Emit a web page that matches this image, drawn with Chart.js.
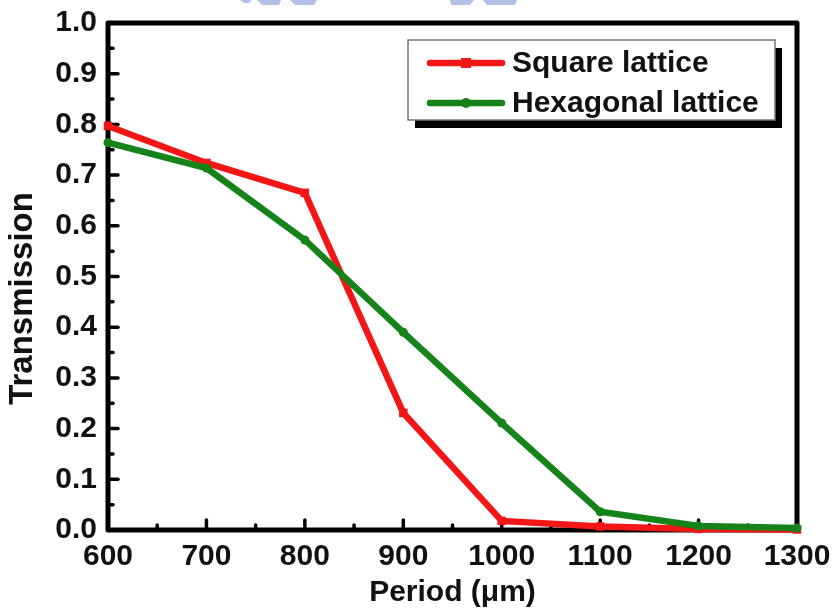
<!DOCTYPE html>
<html>
<head>
<meta charset="utf-8">
<script src="https://cdn.jsdelivr.net/npm/chart.js@4.4.0/dist/chart.umd.min.js"></script>
<style>
  html, body { margin: 0; padding: 0; background: #ffffff; }
  #wrap { width: 835px; height: 611px; }
</style>
</head>
<body>
<div id="wrap"><canvas id="c" width="835" height="611"></canvas></div>
<script>
// Lattice period (µm) and measured transmission for the two lattice types
const periods = [600, 700, 800, 900, 1000, 1100, 1200, 1300];
const squareLattice = [0.797, 0.724, 0.665, 0.231, 0.018, 0.007, 0.002, 0.001];
const hexagonalLattice = [0.764, 0.714, 0.572, 0.390, 0.211, 0.036, 0.008, 0.004];
const seriesNames = ['Square lattice', 'Hexagonal lattice'];
const yMajorTicks = [0, 0.1, 0.2, 0.3, 0.4, 0.5, 0.6, 0.7, 0.8, 0.9, 1.0];
const xMajorTicks = [600, 700, 800, 900, 1000, 1100, 1200, 1300];
const xTitle = 'Period (μm)';
const yTitle = 'Transmission';

const RED = 'rgb(242, 22, 22)';
const GREEN = 'rgb(22, 130, 26)';
const FONT = '"Liberation Sans", Arial, sans-serif';

// Thick black frame and inward ticks, drawn beneath the curves
const framePlugin = {
  id: 'frame',
  beforeDatasetsDraw(chart) {
    const { ctx, chartArea: a, scales } = chart;
    ctx.save();
    ctx.strokeStyle = '#000';
    ctx.lineCap = 'round';
    ctx.lineWidth = 3.5;
    const ys = scales.y, xs = scales.x;
    for (let k = 0; k <= 20; k++) {
      const v = k * 0.05;
      const major = k % 2 === 0;
      const py = ys.getPixelForValue(v);
      ctx.beginPath();
      ctx.moveTo(a.left, py);
      ctx.lineTo(a.left + (major ? 10 : 5), py);
      ctx.stroke();
    }
    for (let v = 600; v <= 1300; v += 50) {
      const major = v % 100 === 0;
      const px = xs.getPixelForValue(v);
      ctx.beginPath();
      ctx.moveTo(px, a.bottom);
      ctx.lineTo(px, a.bottom - (major ? 10 : 5));
      ctx.stroke();
    }
    ctx.lineWidth = 5;
    ctx.lineJoin = 'round';
    ctx.strokeRect(a.left, a.top, a.right - a.left, a.bottom - a.top);
    ctx.restore();
  }
};

// Vertical axis title, set slightly below the middle of the axis
const yTitlePlugin = {
  id: 'yTitle',
  afterDraw(chart) {
    const { ctx, chartArea: a } = chart;
    ctx.save();
    ctx.translate(23, (a.top + a.bottom) / 2 + 22);
    ctx.rotate(-Math.PI / 2);
    ctx.fillStyle = '#111';
    ctx.font = 'bold 33px ' + FONT;
    ctx.textAlign = 'center';
    ctx.textBaseline = 'middle';
    ctx.fillText(yTitle, 0, 0);
    ctx.restore();
  }
};

// Boxed legend with drop shadow inside the plot area
const boxLegendPlugin = {
  id: 'boxLegend',
  afterDatasetsDraw(chart) {
    const { ctx } = chart;
    const bx = 408, by = 40, bw = 367, bh = 80;
    ctx.save();
    ctx.fillStyle = '#000';
    ctx.fillRect(bx + 7, by + 8, bw, bh);
    ctx.fillStyle = '#fff';
    ctx.fillRect(bx, by, bw, bh);
    ctx.strokeStyle = '#777';
    ctx.lineWidth = 1.5;
    ctx.strokeRect(bx, by, bw, bh);
    const rowsY = [63, 103];
    chart.data.datasets.forEach((ds, i) => {
      const y = rowsY[i];
      ctx.strokeStyle = ds.borderColor;
      ctx.lineWidth = 6.5;
      ctx.lineCap = 'round';
      ctx.beginPath();
      ctx.moveTo(430, y);
      ctx.lineTo(502, y);
      ctx.stroke();
      ctx.fillStyle = ds.borderColor;
      ctx.beginPath();
      if (ds.pointStyle === 'rect') {
        ctx.rect(461, y - 5, 10, 10);
      } else {
        ctx.arc(466, y, 5, 0, Math.PI * 2);
      }
      ctx.fill();
      ctx.fillStyle = '#111';
      ctx.font = 'bold 30px ' + FONT;
      ctx.textBaseline = 'middle';
      ctx.textAlign = 'left';
      ctx.fillText(ds.label, 512, y + 1);
    });
    ctx.restore();
  }
};

// Faint blue logo fragments along the top edge
const logoPlugin = {
  id: 'logo',
  afterDraw(chart) {
    const { ctx } = chart;
    ctx.save();
    ctx.fillStyle = 'rgb(178, 194, 228)';
    const shapes = [
      [[240, 0], [252, 0], [249, 3], [244, 3]],
      [[257, 0], [281, 0], [279, 5], [262, 5]],
      [[290, 0], [317, 0], [314, 5], [295, 5]],
      [[450, 0], [474, 0], [470, 5], [451, 5]],
      [[483, 0], [517, 0], [515, 5], [487, 5]]
    ];
    shapes.forEach(s => {
      ctx.beginPath();
      ctx.moveTo(s[0][0], s[0][1]);
      for (let k = 1; k < s.length; k++) ctx.lineTo(s[k][0], s[k][1]);
      ctx.closePath();
      ctx.fill();
    });
    ctx.restore();
  }
};

new Chart(document.getElementById('c'), {
  type: 'line',
  data: {
    datasets: [
      {
        label: seriesNames[0],
        data: periods.map((p, i) => ({ x: p, y: squareLattice[i] })),
        borderColor: RED,
        backgroundColor: RED,
        borderWidth: 6.5,
        pointStyle: 'rect',
        pointRadius: 6,
        pointBorderWidth: 0,
        tension: 0,
        clip: false,
        order: 1
      },
      {
        label: seriesNames[1],
        data: periods.map((p, i) => ({ x: p, y: hexagonalLattice[i] })),
        borderColor: GREEN,
        backgroundColor: GREEN,
        borderWidth: 6.5,
        pointStyle: 'circle',
        pointRadius: 4.5,
        pointBorderWidth: 0,
        tension: 0,
        clip: false,
        order: 0
      }
    ]
  },
  options: {
    responsive: false,
    animation: false,
    devicePixelRatio: 1,
    layout: { padding: { left: 0, top: 23, right: 38, bottom: 0 } },
    plugins: {
      legend: { display: false },
      tooltip: { enabled: false }
    },
    scales: {
      x: {
        type: 'linear',
        min: 600,
        max: 1300,
        afterBuildTicks(scale) { scale.ticks = xMajorTicks.map(v => ({ value: v })); },
        afterFit(scale) {
          scale.height = 81;
          scale.paddingLeft = 0;
          scale.paddingRight = 0;
        },
        grid: { display: false, drawTicks: false },
        border: { display: false },
        ticks: {
          padding: 9,
          color: '#111',
          font: { family: FONT, size: 30, weight: 'bold' },
          maxRotation: 0,
          callback: v => String(v)
        },
        title: {
          display: true,
          text: xTitle,
          color: '#111',
          font: { family: FONT, size: 30, weight: 'bold' },
          padding: { top: 2, bottom: 0 }
        }
      },
      y: {
        type: 'linear',
        min: 0,
        max: 1,
        afterBuildTicks(scale) { scale.ticks = yMajorTicks.map(v => ({ value: v })); },
        afterFit(scale) {
          scale.width = 108;
          scale.paddingTop = 0;
          scale.paddingBottom = 0;
        },
        grid: { display: false, drawTicks: false },
        border: { display: false },
        ticks: {
          padding: 11,
          color: '#111',
          font: { family: FONT, size: 30, weight: 'bold' },
          callback: v => v.toFixed(1)
        }
      }
    }
  },
  plugins: [framePlugin, boxLegendPlugin, yTitlePlugin, logoPlugin]
});
</script>
</body>
</html>
